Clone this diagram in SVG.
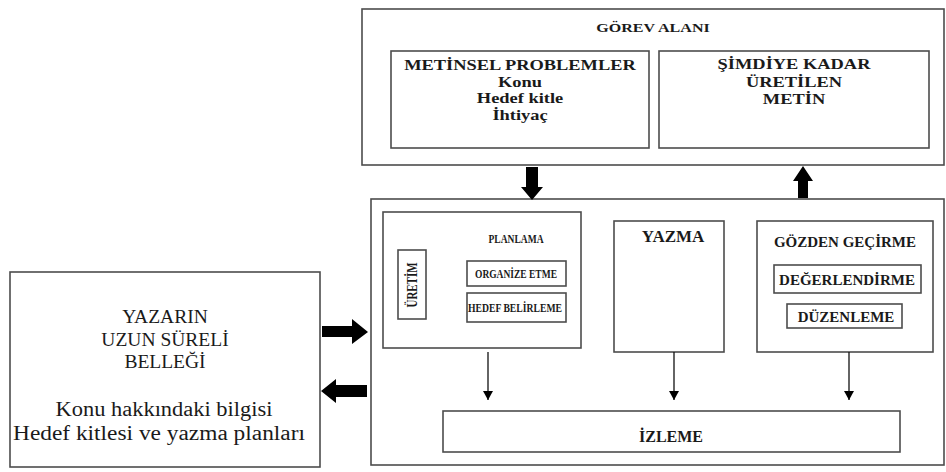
<svg xmlns="http://www.w3.org/2000/svg" width="946" height="472" viewBox="0 0 946 472">
<defs>
<style>
.box{fill:#fff;stroke:#4d4d4d;stroke-width:1.6}
text{font-family:'Liberation Serif','Times New Roman',serif;fill:#1a1a1a;text-anchor:middle}
.b{font-weight:bold}
.blk{fill:#000}
.ln{stroke:#111;stroke-width:1.3;fill:none}
</style>
<marker id="ah" markerWidth="10" markerHeight="10" refX="9" refY="5" orient="auto" markerUnits="userSpaceOnUse">
<path d="M0,0 L9,5 L0,10 Z" fill="#000"/>
</marker>
</defs>
<rect width="946" height="472" fill="#fff"/>

<g id="gorev-alani">
<rect class="box" x="362" y="9" width="582" height="156"/>
<g transform="translate(653,32) scale(1.19,1)"><text class="b" x="0" y="0" font-size="13.5">GÖREV ALANI</text></g>
</g>

<g id="metinsel-problemler">
<rect class="box" x="391" y="51" width="258" height="97"/>
<g transform="translate(520,0) scale(1.27,1)" font-size="14.5">
<text class="b" x="0" y="70">METİNSEL PROBLEMLER</text>
<text class="b" x="0" y="87">Konu</text>
<text class="b" x="0" y="103.5">Hedef kitle</text>
<text class="b" x="0" y="120">İhtiyaç</text>
</g>
</g>

<g id="simdiye-kadar">
<rect class="box" x="659" y="51" width="270" height="97"/>
<g transform="translate(794,0) scale(1.27,1)" font-size="14.5">
<text class="b" x="0" y="69">ŞİMDİYE KADAR</text>
<text class="b" x="0" y="87">ÜRETİLEN</text>
<text class="b" x="0" y="104">METİN</text>
</g>
</g>

<g id="surec">
<rect class="box" x="371" y="199" width="573" height="266"/>
</g>

<g id="planlama">
<rect class="box" x="383" y="212" width="198" height="136"/>
<text class="b" x="516" y="243" font-size="12" textLength="55" lengthAdjust="spacingAndGlyphs">PLANLAMA</text>
</g>

<g id="uretim">
<rect class="box" x="398" y="250" width="28" height="69"/>
<text class="b" x="0" y="0" font-size="14" textLength="45" lengthAdjust="spacingAndGlyphs" transform="translate(417,285) rotate(-90)">ÜRETİM</text>
</g>

<g id="organize-etme">
<rect class="box" x="467" y="261" width="99" height="25"/>
<text class="b" x="516" y="278" font-size="12.5" textLength="82" lengthAdjust="spacingAndGlyphs">ORGANİZE ETME</text>
</g>

<g id="hedef-belirleme">
<rect class="box" x="467" y="293" width="99" height="29"/>
<text class="b" x="515" y="312" font-size="12.5" textLength="94" lengthAdjust="spacingAndGlyphs">HEDEF BELİRLEME</text>
</g>

<g id="yazma">
<rect class="box" x="614" y="221" width="110" height="131"/>
<text class="b" x="673" y="242" font-size="17">YAZMA</text>
</g>

<g id="gozden-gecirme">
<rect class="box" x="757" y="221" width="176" height="131"/>
<text class="b" x="845" y="247" font-size="15">GÖZDEN GEÇİRME</text>
</g>

<g id="degerlendirme">
<rect class="box" x="774" y="265" width="147" height="28"/>
<text class="b" x="847" y="285" font-size="15">DEĞERLENDİRME</text>
</g>

<g id="duzenleme">
<rect class="box" x="787" y="304" width="115" height="24"/>
<text class="b" x="846" y="322" font-size="15">DÜZENLEME</text>
</g>

<g id="izleme">
<rect class="box" x="443" y="411" width="457" height="41"/>
<text class="b" x="671" y="442" font-size="16">İZLEME</text>
</g>

<g id="uzun-sureli-bellek">
<rect class="box" x="10" y="272" width="310" height="195"/>
<text x="165" y="323" font-size="19.5">YAZARIN</text>
<text x="165" y="346" font-size="19.5">UZUN SÜRELİ</text>
<text x="165" y="368" font-size="19.5">BELLEĞİ</text>
<text x="164" y="416" font-size="20" textLength="217" lengthAdjust="spacingAndGlyphs">Konu hakkındaki bilgisi</text>
<text x="159" y="440" font-size="20" textLength="292" lengthAdjust="spacingAndGlyphs">Hedef kitlesi ve yazma planları</text>
</g>

<g id="connectors">
<polygon class="blk" points="526,167 538,167 538,187 543,187 532,200 521,187 526,187"/>
<polygon class="blk" points="803,166 813,181 808,181 808,198 798,198 798,181 793,181"/>
<polygon class="blk" points="322,326 352,326 352,319 368,332 352,344 352,337 322,337"/>
<polygon class="blk" points="321,391 336,379 336,385 367,385 367,397 336,397 336,403"/>
<line class="ln" x1="488" y1="352" x2="488" y2="400" marker-end="url(#ah)"/>
<line class="ln" x1="674" y1="352" x2="674" y2="400" marker-end="url(#ah)"/>
<line class="ln" x1="849" y1="352" x2="849" y2="400" marker-end="url(#ah)"/>
</g>
</svg>
